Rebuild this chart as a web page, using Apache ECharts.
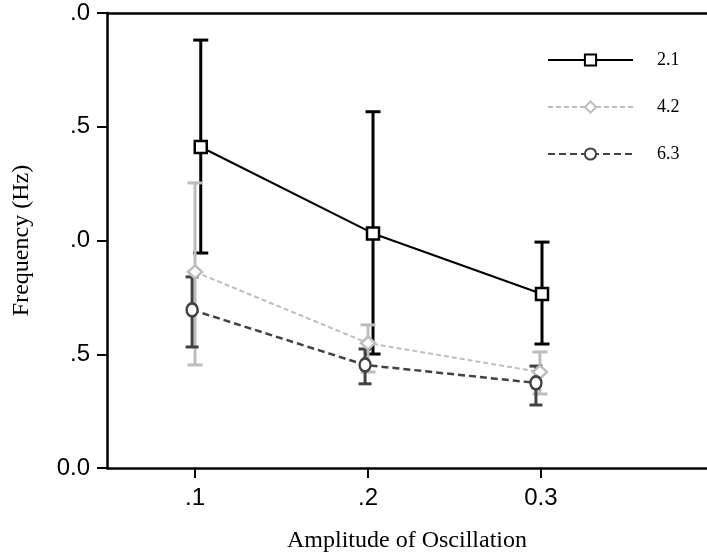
<!DOCTYPE html>
<html>
<head>
<meta charset="utf-8">
<script src="https://cdn.jsdelivr.net/npm/echarts@6/dist/echarts.min.js"></script>
<style>html,body{margin:0;padding:0;background:#fff}#c{width:707px;height:558px}</style>
</head>
<body>
<div id="c"></div>
<script>
// ---- data ----
const seriesNames = ['2.1', '4.2', '6.3'];
const xTicks = [0.1, 0.2, 0.3];
const xTickLabels = ['.1', '.2', '0.3'];
const yTickLabels = ['0.0', '.5', '.0', '.5', '.0'];

// x positions (slightly dodged per series, as in the picture)
const x21 = [0.1033, 0.2029, 0.3006];
const x42 = [0.1000, 0.2000, 0.2994];
const x63 = [0.0983, 0.1983, 0.2971];

const mean21 = [1.411, 1.031, 0.765];
const upper21 = [1.881, 1.566, 0.993];
const lower21 = [0.945, 0.501, 0.545];

const mean42 = [0.862, 0.549, 0.422];
const upper42 = [1.253, 0.629, 0.510];
const lower42 = [0.453, 0.422, 0.325];

const mean63 = [0.695, 0.453, 0.374];
const upper63 = [0.840, 0.523, 0.448];
const lower63 = [0.532, 0.370, 0.277];

// ---- chart ----
const chart = echarts.init(document.getElementById('c'), null, {renderer: 'canvas'});

function pts(xs, ys) { return xs.map((x, i) => [x, ys[i]]); }
function errs(xs, lo, hi) { return xs.map((x, i) => [x, lo[i], hi[i]]); }

function errSeries(name, xs, lo, hi, color, cap) {
  return {
    type: 'custom',
    name: name + ' err',
    z: 1,
    silent: true,
    encode: {x: 0, y: [1, 2]},
    data: errs(xs, lo, hi),
    renderItem: function (params, api) {
      const x = api.value(0), l = api.value(1), h = api.value(2);
      const pt = api.coord([x, h]);
      const pb = api.coord([x, l]);
      const hw = cap / 2;
      const st = {stroke: color, lineWidth: 3};
      return {
        type: 'group',
        children: [
          {type: 'line', shape: {x1: pt[0], y1: pt[1], x2: pb[0], y2: pb[1]}, style: st},
          {type: 'line', shape: {x1: pt[0] - hw, y1: pt[1], x2: pt[0] + hw, y2: pt[1]}, style: st},
          {type: 'line', shape: {x1: pb[0] - hw, y1: pb[1], x2: pb[0] + hw, y2: pb[1]}, style: st}
        ]
      };
    }
  };
}

const c21 = '#000000', c42 = '#bdbdbd', c63 = '#424242';

const option = {
  animation: false,
  backgroundColor: '#ffffff',
  grid: {left: 107, right: 0, top: 13, bottom: 90, containLabel: false},
  legend: {
    orient: 'vertical',
    left: 542,
    top: 46,
    data: seriesNames,
    itemWidth: 85,
    itemHeight: 14,
    itemGap: 29,
    textStyle: {fontFamily: 'Liberation Serif', fontSize: 18, color: '#000', padding: [0, 0, 0, 19], lineHeight: 14}
  },
  xAxis: [{
    type: 'value',
    min: 0.0491,
    max: 0.396,
    axisLine: {show: true, onZero: false, lineStyle: {color: '#000', width: 2.5}},
    axisTick: {show: true, length: 10, customValues: xTicks, lineStyle: {color: '#000', width: 2}},
    axisLabel: {
      customValues: xTicks,
      margin: 18,
      fontFamily: 'Liberation Sans', fontSize: 24, color: '#000',
      formatter: function (v) { const i = xTicks.findIndex(t => Math.abs(t - v) < 1e-6); return i >= 0 ? xTickLabels[i] : ''; }
    },
    splitLine: {show: false},
    name: 'Amplitude of Oscillation',
    nameLocation: 'middle',
    nameGap: 61,
    nameTextStyle: {fontFamily: 'Liberation Serif', fontSize: 24, color: '#000'}
  }, {
    type: 'value',
    position: 'top',
    min: 0.0491,
    max: 0.396,
    axisLine: {show: true, onZero: false, lineStyle: {color: '#000', width: 2.5}},
    axisTick: {show: false},
    axisLabel: {show: false},
    splitLine: {show: false}
  }],
  yAxis: {
    type: 'value',
    min: 0,
    max: 2,
    interval: 0.5,
    axisLine: {show: true, onZero: false, lineStyle: {color: '#000', width: 2.5}},
    axisTick: {show: true, length: 10, lineStyle: {color: '#000', width: 2}},
    axisLabel: {
      margin: 17,
      fontFamily: 'Liberation Sans', fontSize: 24, color: '#000',
      formatter: function (v) { return yTickLabels[Math.round(v / 0.5)]; }
    },
    splitLine: {show: false},
    name: 'Frequency (Hz)',
    nameLocation: 'middle',
    nameGap: 73,
    nameTextStyle: {fontFamily: 'Liberation Serif', fontSize: 24, color: '#000'}
  },
  series: [
    errSeries('2.1', x21, lower21, upper21, c21, 15),
    errSeries('4.2', x42, lower42, upper42, c42, 15),
    errSeries('6.3', x63, lower63, upper63, c63, 13),
    {
      type: 'line', name: '2.1', z: 5,
      data: pts(x21, mean21),
      symbol: 'rect', symbolSize: 12,
      lineStyle: {color: c21, width: 2, type: 'solid'},
      itemStyle: {color: '#fff', borderColor: c21, borderWidth: 2.5}
    },
    {
      type: 'line', name: '4.2', z: 4,
      data: pts(x42, mean42),
      symbol: 'diamond', symbolSize: [14, 13],
      lineStyle: {color: c42, width: 2, type: [5, 3]},
      itemStyle: {color: '#fff', borderColor: c42, borderWidth: 2.5}
    },
    {
      type: 'line', name: '6.3', z: 4,
      data: pts(x63, mean63),
      symbol: 'circle', symbolSize: [11, 13],
      lineStyle: {color: c63, width: 2.5, type: [7, 4]},
      itemStyle: {color: '#fff', borderColor: c63, borderWidth: 2.5}
    }
  ]
};
chart.setOption(option);
</script>
</body>
</html>
